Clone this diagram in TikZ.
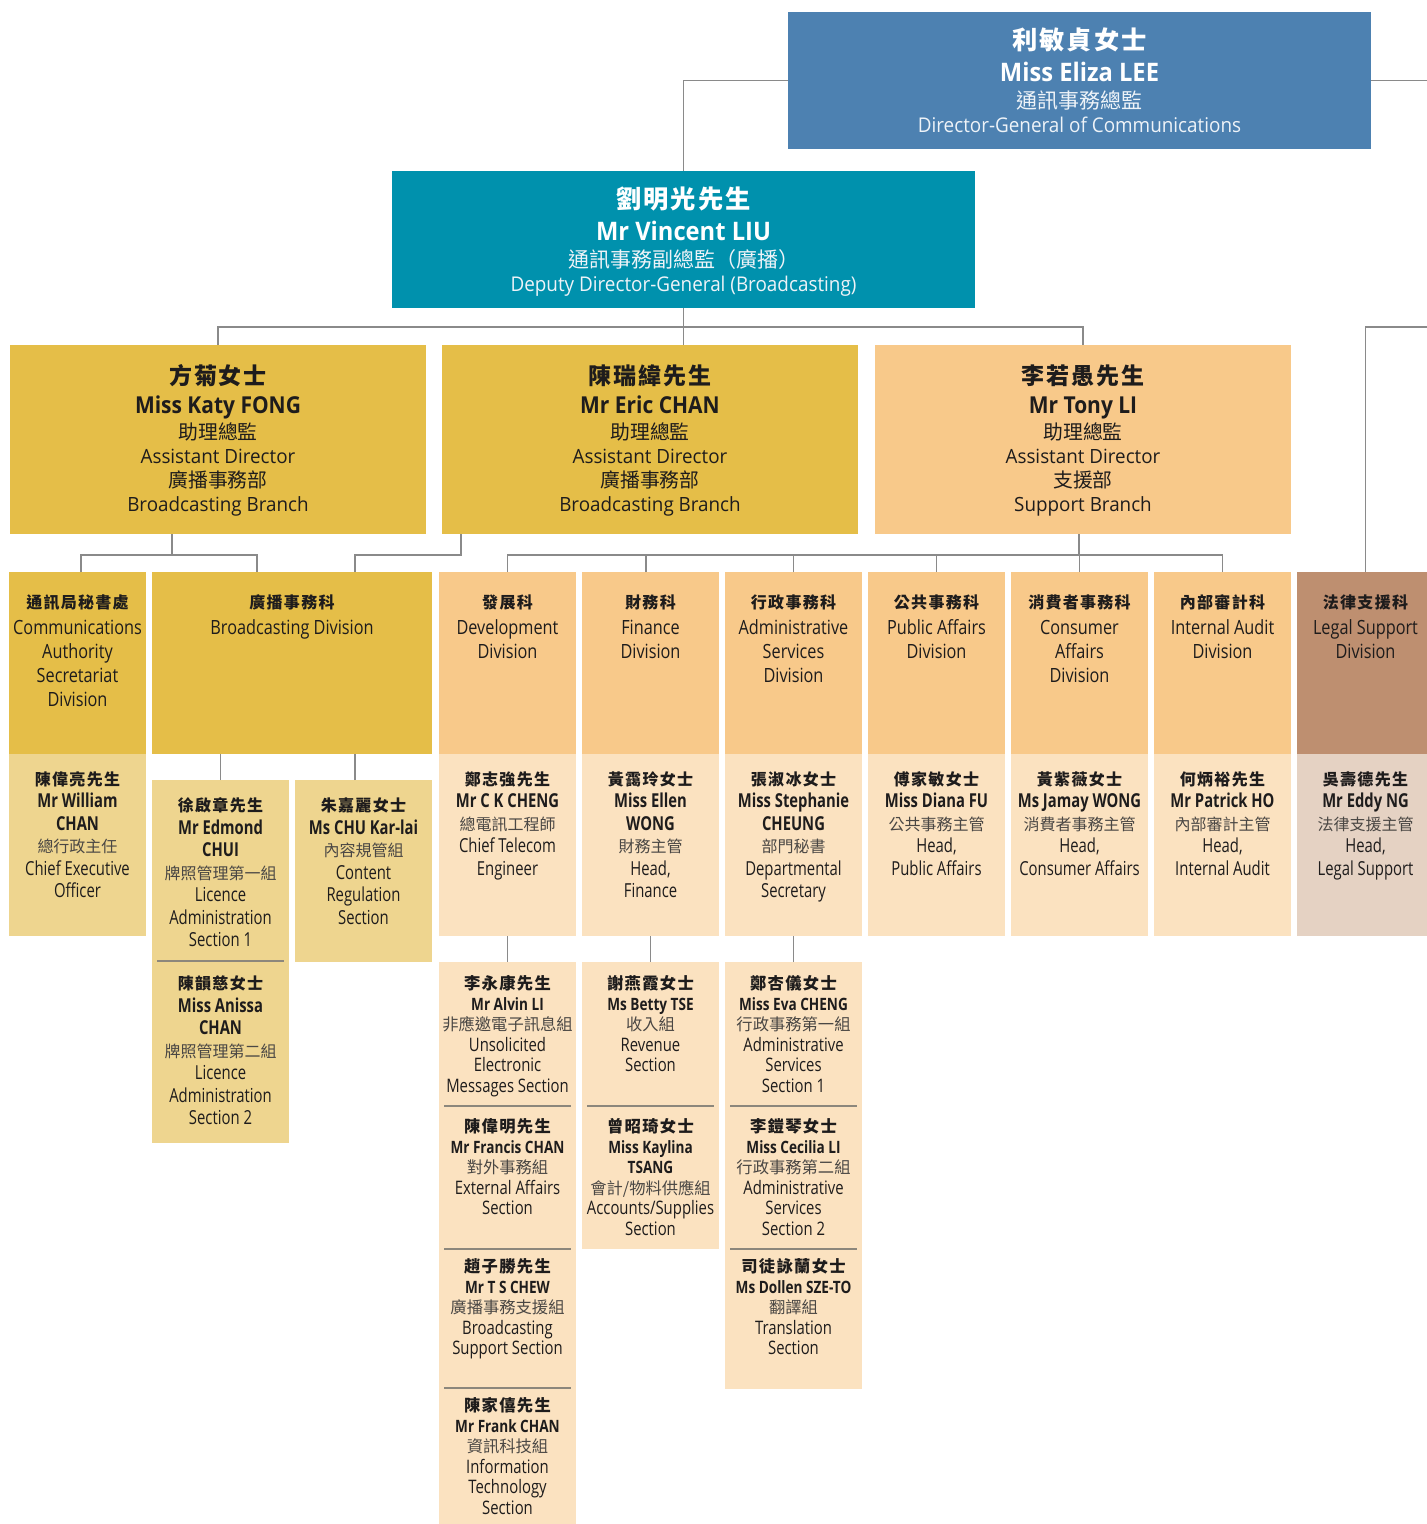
\documentclass[tikz,border=0pt]{standalone}
\usepackage{fontspec}
\setmainfont{Open Sans}
\newfontfamily\zhR{Noto Sans CJK TC}
\newfontfamily\zhS{Noto Sans CJK TC}[LetterSpace=8]
\newfontfamily\enT{Open Sans}[FakeStretch=0.93]
\newfontfamily\enBr{Open Sans}[FakeStretch=0.96]
\newfontfamily\enBn{Open Sans}[FakeStretch=0.90]
\newfontfamily\enH{Open Sans}[FakeStretch=0.83]
\newfontfamily\enP{Open Sans}[FakeStretch=0.77]
\newfontfamily\enS{Open Sans}[FakeStretch=0.80]
\lineskiplimit=-100pt
\lineskip=0pt
\definecolor{blueA}{HTML}{4D81B1}
\definecolor{tealA}{HTML}{0091AD}
\definecolor{goldA}{HTML}{E5BE48}
\definecolor{goldB}{HTML}{EED58F}
\definecolor{orA}{HTML}{F8C98A}
\definecolor{orB}{HTML}{FBE2C0}
\definecolor{brA}{HTML}{BE8F70}
\definecolor{brB}{HTML}{E5D2C3}
\definecolor{linec}{HTML}{8A8A8A}
\definecolor{sepc}{HTML}{8C877C}
\definecolor{txtc}{HTML}{1E1C1C}
\definecolor{zhg}{HTML}{4A4744}
\definecolor{rolew}{HTML}{EEF3F8}
\newcommand\myst{\rule{0pt}{26pt}}
\newcommand\cjkB[2]{{\zhS\bfseries\fontsize{#1}{#1}\selectfont #2}}
\newcommand\cjkR[2]{{\zhR\fontsize{#1}{#1}\selectfont #2}}
\newcommand\cjkG[2]{{\zhR\color{zhg}\fontsize{#1}{#1}\selectfont #2}}
\newcommand\enb[2]{{\bfseries\fontsize{#1}{#1}\selectfont #2}}
\newcommand\bx[6]{\node[boxst, fill=#2, minimum width=#5pt, minimum height=#6pt] (#1) at (#3,#4) {};}
\newcommand\tx[5]{\node[txst, #2] (#1) at (#3,#4-26) {\myst#5};}
\tikzset{
  boxst/.style={anchor=north west, inner sep=0pt, outer sep=0pt, draw=none},
  txst/.style={anchor=north, inner sep=0pt, outer sep=0pt, align=center, text=txtc},
  ln/.style={draw=linec, line width=1.6pt},
  sepl/.style={draw=sepc, line width=1.3pt},
  topf/.style={font=\enT\fontsize{20.3}{24}\selectfont, text=white},
  brf/.style={font=\enBr\fontsize{19.6}{24}\selectfont},
  hdf/.style={font=\enH\fontsize{19.6}{24.1}\selectfont},
  pnf/.style={font=\enP\fontsize{19.3}{22.5}\selectfont},
  sbf/.style={font=\enS\fontsize{18.6}{20.6}\selectfont},
}
\begin{document}
\begin{tikzpicture}[x=1pt,y=-1pt]
\useasboundingbox (0,0) rectangle (1427,1524);
\clip (0,0) rectangle (1427,1524);
% ---------- boxes ----------
\bx{eliza}{blueA}{788}{12}{583}{137}
\bx{vincent}{tealA}{392}{171}{583}{137}
\bx{katy}{goldA}{10}{345}{416}{189}
\bx{eric}{goldA}{442}{345}{416}{189}
\bx{tony}{orA}{875}{345}{416}{189}
% divisions
\bx{caH}{goldA}{9}{572}{137}{182}
\bx{caP}{goldB}{9}{754}{137}{182}
\bx{bdH}{goldA}{152}{572}{280}{182}
\bx{edm}{goldB}{152}{780}{137}{363}
\bx{chu}{goldB}{295}{780}{137}{182}
\bx{devH}{orA}{439}{572}{137}{182}
\bx{devP}{orB}{439}{754}{137}{182}
\bx{devS}{orB}{439}{962}{137}{562}
\bx{finH}{orA}{582}{572}{137}{182}
\bx{finP}{orB}{582}{754}{137}{182}
\bx{finS}{orB}{582}{962}{137}{287}
\bx{admH}{orA}{725}{572}{137}{182}
\bx{admP}{orB}{725}{754}{137}{182}
\bx{admS}{orB}{725}{962}{137}{427}
\bx{pubH}{orA}{868}{572}{137}{182}
\bx{pubP}{orB}{868}{754}{137}{182}
\bx{conH}{orA}{1011}{572}{137}{182}
\bx{conP}{orB}{1011}{754}{137}{182}
\bx{audH}{orA}{1154}{572}{137}{182}
\bx{audP}{orB}{1154}{754}{137}{182}
\bx{legH}{brA}{1297}{572}{137}{182}
\bx{legP}{brB}{1297}{754}{137}{182}
% separators
\draw[sepl] (157,961) -- (284,961);
\draw[sepl] (444,1106) -- (571,1106);
\draw[sepl] (444,1249) -- (571,1249);
\draw[sepl] (444,1388) -- (571,1388);
\draw[sepl] (587,1106) -- (714,1106);
\draw[sepl] (730,1106) -- (857,1106);
\draw[sepl] (730,1249) -- (857,1249);
% ---------- connectors ----------
\coordinate (edgeA) at (1427,80.5);
\coordinate (edgeB) at (1427,327);
\draw[ln] (eliza.west) -| (vincent.north);
\draw[ln] (eliza.east) -- (edgeA);
\draw[ln] (vincent.south) -- (vincent.south |- eric.north);
\draw[ln] (katy.north) -- ++(0,-18) -| (tony.north);
\draw[ln] (edgeB) -| (legH.north);
\draw[ln] ([xshift=-46pt]katy.south) -- ++(0,21);
\draw[ln] ([xshift=3.5pt]caH.north) -- ++(0,-17) -| ([xshift=-35pt]bdH.north);
\draw[ln] ([xshift=-189pt]eric.south) -- ++(0,21) -| ([xshift=63pt]bdH.north);
\draw[ln] ([xshift=-4pt]tony.south) -- ++(0,21);
\draw[ln] (devH.north) -- ++(0,-17) -| (audH.north);
\draw[ln] ([xshift=-4.5pt]finH.north) -- ++(0,-17);
\draw[ln] (admH.north) -- ++(0,-17);
\draw[ln] (pubH.north) -- ++(0,-17);
\draw[ln] (conH.north) -- ++(0,-17);
\draw[ln] (edm.north) -- (edm.north |- bdH.south);
\draw[ln] ([xshift=-8.5pt]chu.north) -- ++(0,-26);
\draw[ln] (devP.south) -- (devS.north);
\draw[ln] (finP.south) -- (finS.north);
\draw[ln] (admP.south) -- (admS.north);
% ---------- texts ----------
\tx{tEliza}{topf}{1079.5}{49.8}{\cjkB{25.3}{利敏貞女士}\\[7.2pt]\enb{25.5}{Miss Eliza LEE}\\[3.9pt]{\color{rolew}\cjkR{21}{通訊事務總監}}\\{\color{rolew}Director-General of Communications}}
\tx{tVincent}{topf}{683.5}{208.8}{\cjkB{25.3}{劉明光先生}\\[7.2pt]\enb{25.5}{Mr Vincent LIU}\\[3.9pt]{\color{rolew}\cjkR{21}{通訊事務副總監（廣播）}}\\{\color{rolew}Deputy Director-General (Broadcasting)}}
\tx{tKaty}{brf}{218}{384}{\cjkB{23}{方菊女士}\\[5.3pt]{\enBn\enb{23.3}{Miss Katy FONG}}\\[2.2pt]\cjkR{19.8}{助理總監}\\Assistant Director\\\cjkR{19.8}{廣播事務部}\\Broadcasting Branch}
\tx{tEric}{brf}{650}{384}{\cjkB{23}{陳瑞緯先生}\\[5.3pt]{\enBn\enb{23.3}{Mr Eric CHAN}}\\[2.2pt]\cjkR{19.8}{助理總監}\\Assistant Director\\\cjkR{19.8}{廣播事務部}\\Broadcasting Branch}
\tx{tTony}{brf}{1083}{384}{\cjkB{23}{李若愚先生}\\[5.3pt]{\enBn\enb{23.3}{Mr Tony LI}}\\[2.2pt]\cjkR{19.8}{助理總監}\\Assistant Director\\\cjkR{19.8}{支援部}\\Support Branch}
% division headers
\tx{tcaH}{hdf}{77.5}{608}{\cjkB{16}{通訊局秘書處}\\[2pt]Communications\\Authority\\Secretariat\\Division}
\tx{tbdH}{hdf}{292}{608}{\cjkB{16}{廣播事務科}\\[2pt]Broadcasting Division}
\tx{tdevH}{hdf}{507.5}{608}{\cjkB{16}{發展科}\\[2pt]Development\\Division}
\tx{tfinH}{hdf}{650.5}{608}{\cjkB{16}{財務科}\\[2pt]Finance\\Division}
\tx{tadmH}{hdf}{793.5}{608}{\cjkB{16}{行政事務科}\\[2pt]Administrative\\Services\\Division}
\tx{tpubH}{hdf}{936.5}{608}{\cjkB{16}{公共事務科}\\[2pt]Public Affairs\\Division}
\tx{tconH}{hdf}{1079.5}{608}{\cjkB{16}{消費者事務科}\\[2pt]Consumer\\Affairs\\Division}
\tx{taudH}{hdf}{1222.5}{608}{\cjkB{16}{內部審計科}\\[2pt]Internal Audit\\Division}
\tx{tlegH}{hdf}{1365.5}{608}{\cjkB{16}{法律支援科}\\[2pt]Legal Support\\Division}
% division heads
\tx{tcaP}{pnf}{77.5}{785}{\cjkB{16}{陳偉亮先生}\\\enb{19.2}{Mr William}\\\enb{19.2}{CHAN}\\\cjkG{16}{總行政主任}\\Chief Executive\\Officer}
\tx{tdevP}{pnf}{507.5}{785}{\cjkB{16}{鄭志強先生}\\\enb{19.2}{Mr C K CHENG}\\\cjkG{16}{總電訊工程師}\\Chief Telecom\\Engineer}
\tx{tfinP}{pnf}{650.5}{785}{\cjkB{16}{黃靄玲女士}\\\enb{19.2}{Miss Ellen}\\\enb{19.2}{WONG}\\\cjkG{16}{財務主管}\\Head,\\Finance}
\tx{tadmP}{pnf}{793.5}{785}{\cjkB{16}{張淑冰女士}\\\enb{19.2}{Miss Stephanie}\\\enb{19.2}{CHEUNG}\\\cjkG{16}{部門秘書}\\Departmental\\Secretary}
\tx{tpubP}{pnf}{936.5}{785}{\cjkB{16}{傅家敏女士}\\\enb{19.2}{Miss Diana FU}\\\cjkG{16}{公共事務主管}\\Head,\\Public Affairs}
\tx{tconP}{pnf}{1079.5}{785}{\cjkB{16}{黃紫薇女士}\\\enb{19.2}{Ms Jamay WONG}\\\cjkG{16}{消費者事務主管}\\Head,\\Consumer Affairs}
\tx{taudP}{pnf}{1222.5}{785}{\cjkB{16}{何炳裕先生}\\\enb{19.2}{Mr Patrick HO}\\\cjkG{16}{內部審計主管}\\Head,\\Internal Audit}
\tx{tlegP}{pnf}{1365.5}{785}{\cjkB{16}{吳壽德先生}\\\enb{19.2}{Mr Eddy NG}\\\cjkG{16}{法律支援主管}\\Head,\\Legal Support}
% broadcasting sections
\tx{tedm}{pnf}{220.5}{811.5}{\cjkB{16}{徐啟章先生}\\\enb{19.2}{Mr Edmond}\\\enb{19.2}{CHUI}\\\cjkG{16}{牌照管理第一組}\\Licence\\Administration\\Section 1}
\tx{tani}{pnf}{220.5}{989.5}{\cjkB{16}{陳韻慈女士}\\\enb{19.2}{Miss Anissa}\\\enb{19.2}{CHAN}\\\cjkG{16}{牌照管理第二組}\\Licence\\Administration\\Section 2}
\tx{tchu}{pnf}{363.5}{811.5}{\cjkB{16}{朱嘉麗女士}\\\enb{19.2}{Ms CHU Kar-lai}\\\cjkG{16}{內容規管組}\\Content\\Regulation\\Section}
% development sections
\tx{tdev1}{sbf}{507.5}{989.5}{\cjkB{16.3}{李永康先生}\\\enb{17}{Mr Alvin LI}\\\cjkG{16.3}{非應邀電子訊息組}\\Unsolicited\\Electronic\\Messages Section}
\tx{tdev2}{sbf}{507.5}{1132.5}{\cjkB{16.3}{陳偉明先生}\\\enb{17}{Mr Francis CHAN}\\\cjkG{16.3}{對外事務組}\\External Affairs\\Section}
\tx{tdev3}{sbf}{507.5}{1272.5}{\cjkB{16.3}{趙子勝先生}\\\enb{17}{Mr T S CHEW}\\\cjkG{16.3}{廣播事務支援組}\\Broadcasting\\Support Section}
\tx{tdev4}{sbf}{507.5}{1411.5}{\cjkB{16.3}{陳家僖先生}\\\enb{17}{Mr Frank CHAN}\\\cjkG{16.3}{資訊科技組}\\Information\\Technology\\Section}
% finance sections
\tx{tfin1}{sbf}{650.5}{989.5}{\cjkB{16.3}{謝燕霞女士}\\\enb{17}{Ms Betty TSE}\\\cjkG{16.3}{收入組}\\Revenue\\Section}
\tx{tfin2}{sbf}{650.5}{1132.5}{\cjkB{16.3}{曾昭琦女士}\\\enb{17}{Miss Kaylina}\\\enb{17}{TSANG}\\\cjkG{16.3}{會計/物料供應組}\\Accounts/Supplies\\Section}
% administrative sections
\tx{tadm1}{sbf}{793.5}{989.5}{\cjkB{16.3}{鄭杏儀女士}\\\enb{17}{Miss Eva CHENG}\\\cjkG{16.3}{行政事務第一組}\\Administrative\\Services\\Section 1}
\tx{tadm2}{sbf}{793.5}{1132.5}{\cjkB{16.3}{李鎧琴女士}\\\enb{17}{Miss Cecilia LI}\\\cjkG{16.3}{行政事務第二組}\\Administrative\\Services\\Section 2}
\tx{tadm3}{sbf}{793.5}{1272.5}{\cjkB{16.3}{司徒詠蘭女士}\\\enb{17}{Ms Dollen SZE-TO}\\\cjkG{16.3}{翻譯組}\\Translation\\Section}
\end{tikzpicture}
\end{document}
